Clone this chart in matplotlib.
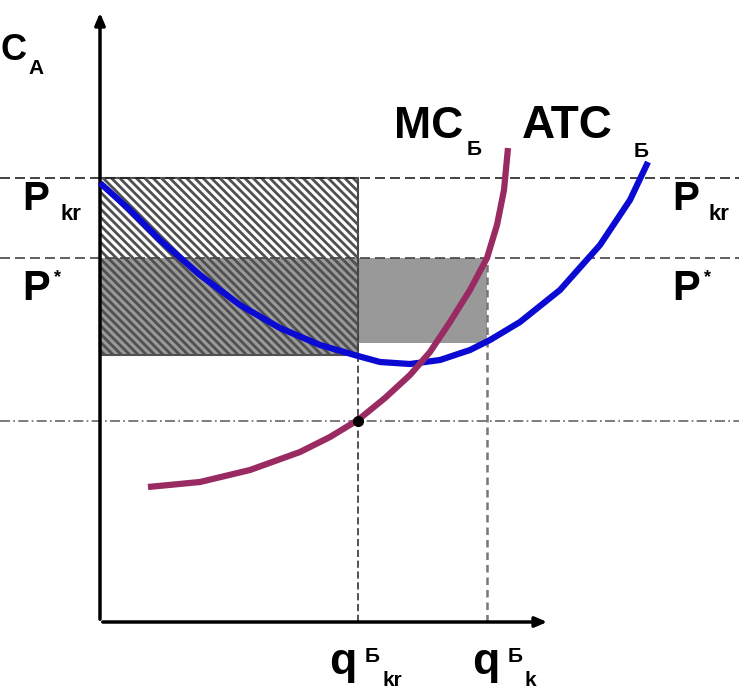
import matplotlib
matplotlib.use("Agg")
import matplotlib.pyplot as plt
from matplotlib.patches import Rectangle

# ---- data (economic coordinates: quantity q, price/cost p) ----
mc_q = [48, 100, 150, 200, 230, 258, 285, 310, 330, 350, 370, 387, 397, 404, 408]
mc_p = [135, 140, 152, 170, 185, 202, 224, 247, 270, 300, 332, 364, 397, 432, 474]

atc_q = [0, 30, 60, 100, 140, 180, 220, 258, 280, 310, 340, 370, 390, 420, 460, 500, 530, 548]
atc_p = [439, 412, 382, 347, 317, 294, 277, 266, 260, 258, 262, 272, 282, 300, 332, 377, 422, 460]

p_kr = 444        # critical price
p_star = 364      # equilibrium price
atc_at_qkr = 267  # ATC level at q_kr
atc_at_qk = 279   # ATC level at q_k
mc_at_qkr = 201   # MC level at q_kr
q_kr = 258
q_k = 387

plt.rcParams['font.family'] = ['Liberation Sans', 'DejaVu Sans']
plt.rcParams['hatch.linewidth'] = 2.0

fig = plt.figure(figsize=(7.39, 6.93), dpi=100)
ax = fig.add_axes([0, 0, 1, 1])
ax.set_xlim(-100, 639)
ax.set_ylim(-71, 622)
ax.axis('off')

# grey rectangles
ax.add_patch(Rectangle((0, atc_at_qkr), q_kr, p_star - atc_at_qkr, facecolor='#9a9a9a', edgecolor='none', zorder=1))
ax.add_patch(Rectangle((q_kr, atc_at_qk), q_k - q_kr, p_star - atc_at_qk, facecolor='#999999', edgecolor='none', zorder=1))
# hatched rectangle
ax.add_patch(Rectangle((0, atc_at_qkr), q_kr, p_kr - atc_at_qkr, facecolor='none', edgecolor='#505050',
                       hatch='\\\\\\\\', lw=1.5, zorder=2))

# reference lines
ax.plot([-100, 639], [p_kr, p_kr], color='#222222', lw=1.2, ls=(0, (6, 3)), zorder=3)
ax.plot([-100, 639], [p_star, p_star], color='#444444', lw=1.2, ls=(0, (6, 3)), zorder=3)
ax.plot([-100, 639], [mc_at_qkr, mc_at_qkr], color='#666666', lw=1.2, ls=(0, (6, 2, 1, 2)), zorder=3)
ax.plot([q_kr, q_kr], [0, p_kr], color='#444444', lw=1.3, ls=(0, (4, 2)), zorder=3)
ax.plot([q_k, q_k], [0, p_star], color='#777777', lw=1.8, ls=(0, (3, 2)), zorder=3)

# curves
ax.plot(atc_q, atc_p, color='#0a0ad2', lw=4.5, solid_capstyle='butt', zorder=5)
ax.plot(mc_q, mc_p, color='#9a2b62', lw=4.5, solid_capstyle='butt', zorder=6)
ax.plot([q_kr], [mc_at_qkr], 'o', color='black', ms=7, zorder=7)

# axes with arrows
ax.annotate('', xy=(450, 0), xytext=(0, 0),
            arrowprops=dict(arrowstyle='-|>,head_length=0.7,head_width=0.3', color='black', lw=2.5), zorder=4)
ax.annotate('', xy=(0, 612), xytext=(0, 0),
            arrowprops=dict(arrowstyle='-|>,head_length=0.7,head_width=0.3', color='black', lw=2.5), zorder=4)

fb = dict(fontweight='bold', color='black')
# top-left label
ax.text(-100, 562, 'C', fontsize=26, ha='left', va='baseline', **fb)
ax.text(-72, 548, 'A', fontsize=15, ha='left', va='baseline', **fb)

# price labels left
ax.text(-78, 412, 'P', fontsize=29, ha='left', va='baseline', **fb)
ax.text(-40, 402, 'kr', fontsize=16, ha='left', va='baseline', **fb)
ax.text(-78, 322, 'P', fontsize=30, ha='left', va='baseline', **fb)
ax.text(-46, 340, '*', fontsize=13, ha='left', va='baseline', **fb)
# price labels right
ax.text(572, 412, 'P', fontsize=29, ha='left', va='baseline', **fb)
ax.text(608, 402, 'kr', fontsize=16, ha='left', va='baseline', **fb)
ax.text(572, 322, 'P', fontsize=30, ha='left', va='baseline', **fb)
ax.text(604, 340, '*', fontsize=13, ha='left', va='baseline', **fb)

# curve labels
ax.text(294, 484, 'MC', fontsize=32, ha='left', va='baseline', **fb)
ax.text(367, 467, 'Б', fontsize=15, ha='left', va='baseline', **fb)
ax.text(422, 484, 'ATC', fontsize=33, ha='left', va='baseline', **fb)
ax.text(534, 465, 'Б', fontsize=15, ha='left', va='baseline', **fb)

# quantity labels
ax.text(229, -52, 'q', fontsize=32, ha='left', va='baseline', **fb)
ax.text(265, -40, 'Б', fontsize=15, ha='left', va='baseline', **fb)
ax.text(283, -64, 'kr', fontsize=15, ha='left', va='baseline', **fb)
ax.text(372, -52, 'q', fontsize=32, ha='left', va='baseline', **fb)
ax.text(408, -40, 'Б', fontsize=15, ha='left', va='baseline', **fb)
ax.text(425, -64, 'k', fontsize=15, ha='left', va='baseline', **fb)

fig.savefig('out.png', dpi=100)
